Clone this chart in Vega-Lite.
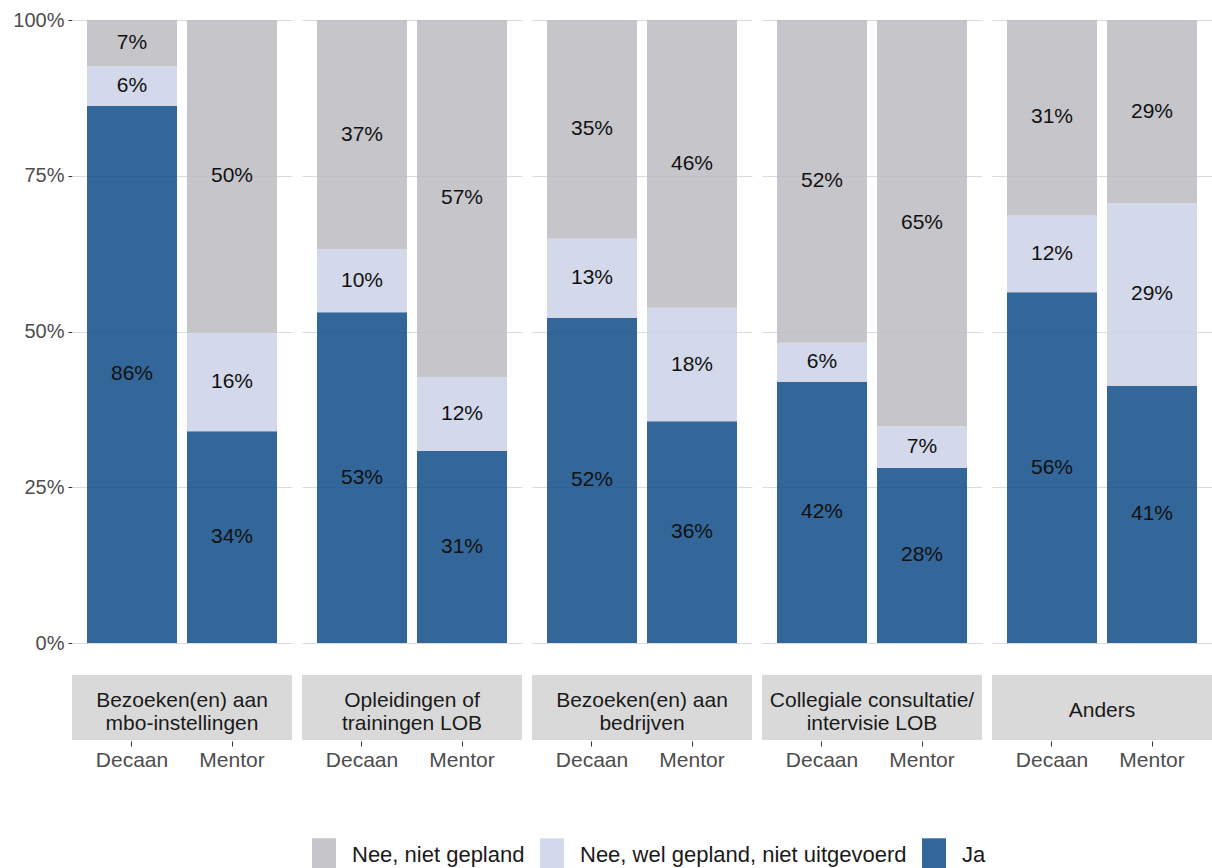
{
  "$schema": "https://vega.github.io/schema/vega-lite/v6.json",
  "padding": {"left": 12, "top": 10, "right": 0, "bottom": 0},
  "background": "white",
  "config": {
    "font": "Liberation Sans",
    "view": {"stroke": null},
    "facet": {"spacing": 10},
    "axis": {"labelFont": "Liberation Sans", "labelFontSize": 21, "labelColor": "#4d4d4d", "tickColor": "#333333", "domain": false, "title": null}
  },
  "data": {"values": [
    {"category": "Bezoeken(en) aan\nmbo-instellingen", "role": "Decaan", "answer": "Ja", "value": 0.862},
    {"category": "Bezoeken(en) aan\nmbo-instellingen", "role": "Decaan", "answer": "Nee, wel gepland, niet uitgevoerd", "value": 0.064},
    {"category": "Bezoeken(en) aan\nmbo-instellingen", "role": "Decaan", "answer": "Nee, niet gepland", "value": 0.074},
    {"category": "Bezoeken(en) aan\nmbo-instellingen", "role": "Mentor", "answer": "Ja", "value": 0.340},
    {"category": "Bezoeken(en) aan\nmbo-instellingen", "role": "Mentor", "answer": "Nee, wel gepland, niet uitgevoerd", "value": 0.158},
    {"category": "Bezoeken(en) aan\nmbo-instellingen", "role": "Mentor", "answer": "Nee, niet gepland", "value": 0.502},
    {"category": "Opleidingen of\ntrainingen LOB", "role": "Decaan", "answer": "Ja", "value": 0.531},
    {"category": "Opleidingen of\ntrainingen LOB", "role": "Decaan", "answer": "Nee, wel gepland, niet uitgevoerd", "value": 0.101},
    {"category": "Opleidingen of\ntrainingen LOB", "role": "Decaan", "answer": "Nee, niet gepland", "value": 0.368},
    {"category": "Opleidingen of\ntrainingen LOB", "role": "Mentor", "answer": "Ja", "value": 0.308},
    {"category": "Opleidingen of\ntrainingen LOB", "role": "Mentor", "answer": "Nee, wel gepland, niet uitgevoerd", "value": 0.119},
    {"category": "Opleidingen of\ntrainingen LOB", "role": "Mentor", "answer": "Nee, niet gepland", "value": 0.573},
    {"category": "Bezoeken(en) aan\nbedrijven", "role": "Decaan", "answer": "Ja", "value": 0.522},
    {"category": "Bezoeken(en) aan\nbedrijven", "role": "Decaan", "answer": "Nee, wel gepland, niet uitgevoerd", "value": 0.127},
    {"category": "Bezoeken(en) aan\nbedrijven", "role": "Decaan", "answer": "Nee, niet gepland", "value": 0.351},
    {"category": "Bezoeken(en) aan\nbedrijven", "role": "Mentor", "answer": "Ja", "value": 0.356},
    {"category": "Bezoeken(en) aan\nbedrijven", "role": "Mentor", "answer": "Nee, wel gepland, niet uitgevoerd", "value": 0.182},
    {"category": "Bezoeken(en) aan\nbedrijven", "role": "Mentor", "answer": "Nee, niet gepland", "value": 0.462},
    {"category": "Collegiale consultatie/\nintervisie LOB", "role": "Decaan", "answer": "Ja", "value": 0.419},
    {"category": "Collegiale consultatie/\nintervisie LOB", "role": "Decaan", "answer": "Nee, wel gepland, niet uitgevoerd", "value": 0.063},
    {"category": "Collegiale consultatie/\nintervisie LOB", "role": "Decaan", "answer": "Nee, niet gepland", "value": 0.518},
    {"category": "Collegiale consultatie/\nintervisie LOB", "role": "Mentor", "answer": "Ja", "value": 0.281},
    {"category": "Collegiale consultatie/\nintervisie LOB", "role": "Mentor", "answer": "Nee, wel gepland, niet uitgevoerd", "value": 0.067},
    {"category": "Collegiale consultatie/\nintervisie LOB", "role": "Mentor", "answer": "Nee, niet gepland", "value": 0.652},
    {"category": "Anders", "role": "Decaan", "answer": "Ja", "value": 0.563},
    {"category": "Anders", "role": "Decaan", "answer": "Nee, wel gepland, niet uitgevoerd", "value": 0.124},
    {"category": "Anders", "role": "Decaan", "answer": "Nee, niet gepland", "value": 0.313},
    {"category": "Anders", "role": "Mentor", "answer": "Ja", "value": 0.413},
    {"category": "Anders", "role": "Mentor", "answer": "Nee, wel gepland, niet uitgevoerd", "value": 0.293},
    {"category": "Anders", "role": "Mentor", "answer": "Nee, niet gepland", "value": 0.294}
  ]},
  "facet": {
    "column": {
      "field": "category", "type": "nominal",
      "sort": ["Bezoeken(en) aan\nmbo-instellingen", "Opleidingen of\ntrainingen LOB", "Bezoeken(en) aan\nbedrijven", "Collegiale consultatie/\nintervisie LOB", "Anders"],
      "header": {"labels": false, "title": null},
      "title": null
    }
  },
  "spec": {
    "width": 220,
    "height": 623,
    "layer": [
      {
        "transform": [{"aggregate": [{"op": "count", "as": "n"}], "groupby": ["category"]}],
        "mark": {"type": "rect", "color": "#d9d9d9", "clip": false},
        "encoding": {
          "y": {"datum": -0.0514, "type": "quantitative"},
          "y2": {"datum": -0.1557}
        }
      },
      {
        "transform": [
          {"aggregate": [{"op": "count", "as": "n"}], "groupby": ["category"]},
          {"filter": "indexof(datum.category, '\\n') >= 0"}
        ],
        "mark": {"type": "text", "fontSize": 21, "color": "#1a1a1a", "lineBreak": "\n", "lineHeight": 23, "baseline": "alphabetic", "align": "center", "clip": false},
        "encoding": {
          "y": {"datum": -0.1027, "type": "quantitative"},
          "text": {"field": "category"}
        }
      },
      {
        "transform": [
          {"aggregate": [{"op": "count", "as": "n"}], "groupby": ["category"]},
          {"filter": "indexof(datum.category, '\\n') < 0"}
        ],
        "mark": {"type": "text", "fontSize": 21, "color": "#1a1a1a", "baseline": "alphabetic", "align": "center", "clip": false},
        "encoding": {
          "y": {"datum": -0.1188, "type": "quantitative"},
          "text": {"field": "category"}
        }
      },
      {
        "mark": {"type": "bar", "opacity": 0.85},
        "encoding": {
          "x": {
            "field": "role", "type": "nominal",
            "scale": {"paddingInner": 0.1, "paddingOuter": 0.15},
            "axis": {"offset": 0, "labelAngle": 0, "tickSize": 5, "labelPadding": 3, "grid": false}
          },
          "y": {
            "field": "value", "type": "quantitative", "stack": "normalize",
            "scale": {"domain": [0, 1], "nice": false},
            "axis": {"values": [0, 0.25, 0.5, 0.75, 1], "format": ".0%", "labelFontSize": 20, "tickSize": 4, "labelPadding": 4, "grid": true, "gridColor": "#dcdcdc", "gridWidth": 1}
          },
          "order": {"field": "role"},
          "color": {
            "field": "answer", "type": "nominal",
            "scale": {"domain": ["Nee, niet gepland", "Nee, wel gepland, niet uitgevoerd", "Ja"], "range": ["#bcbbc1", "#cbd2e6", "#0f4b87"]},
            "legend": {
              "title": null, "orient": "none", "direction": "horizontal",
              "legendX": 240, "legendY": 823,
              "symbolType": "M-1,-1.4H1V1.4H-1Z", "symbolSize": 576, "symbolOpacity": 0.85, "symbolStrokeWidth": 0,
              "labelFontSize": 22, "labelColor": "#1a1a1a", "labelOffset": 16, "columnPadding": 15, "labelLimit": 0
            }
          }
        }
      },
      {
        "mark": {"type": "text", "fontSize": 21, "baseline": "middle", "color": "#111111"},
        "encoding": {
          "x": {"field": "role", "type": "nominal"},
          "y": {"field": "value", "type": "quantitative", "stack": "normalize", "bandPosition": 0.5},
          "order": {"field": "role"},
          "detail": {"field": "answer"},
          "text": {"field": "value", "type": "quantitative", "format": ".0%"}
        }
      }
    ]
  }
}
